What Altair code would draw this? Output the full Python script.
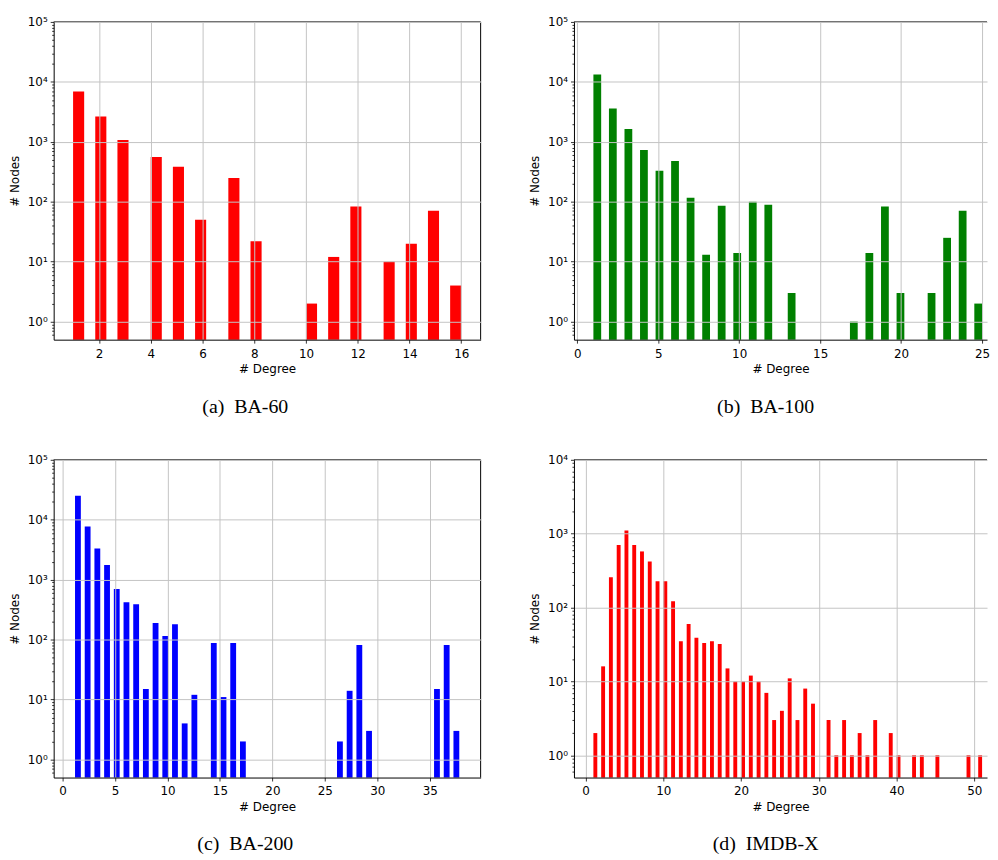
import altair as alt
import pandas as pd

# ---------------- data ----------------
# (a) BA-60
ba60_deg = [1, 2, 3, 4, 5, 6, 7, 8, 10, 11, 12, 13, 14, 15, 16]
ba60_cnt = [6900, 2650, 1070, 560, 385, 50, 250, 22, 2, 12, 83, 10, 20, 71, 4]

# (b) BA-100
ba100_deg = [1, 2, 3, 4, 5, 6, 7, 8, 9, 10, 11, 12, 13, 17, 18, 19, 20, 22, 23, 24, 25]
ba100_cnt = [13300, 3600, 1630, 730, 330, 480, 117, 13, 86, 14, 100, 89, 3, 1, 14, 83, 3, 3, 25, 71, 2]

# (c) BA-200
ba200_deg = [1, 2, 3, 4, 5, 6, 7, 8, 9, 10, 11, 12, 13, 14, 15, 16, 17, 26, 27, 28, 29, 36, 37, 38]
ba200_cnt = [25100, 7700, 3300, 1750, 700, 420, 390, 15, 190, 115, 180, 4, 12, 88, 11, 88, 2,
             2, 14, 81, 3, 15, 81, 3]

# (d) IMDB-X
imdb_deg = [1, 2, 3, 4, 5, 6, 7, 8, 9, 10, 11, 12, 13, 14, 15, 16, 17, 18, 19, 20, 21, 22, 23, 24,
            25, 26, 27, 28, 29, 31, 32, 33, 34, 35, 36, 37, 39, 40, 42, 43, 45, 49, 51]
imdb_cnt = [2, 16, 257, 700, 1100, 700, 575, 420, 227, 227, 122, 35, 60, 39, 33, 35, 32, 15, 10, 10,
            12, 10, 7, 3, 4, 11, 3, 8, 5, 3, 1, 3, 1, 2, 1, 3, 2, 1, 1, 1, 1, 1, 1]

captions = ["(a)\u00a0 BA-60", "(b)\u00a0 BA-100", "(c)\u00a0 BA-200", "(d)\u00a0 IMDB-X"]
x_ticks_a = [2, 4, 6, 8, 10, 12, 14, 16]
x_ticks_b = [0, 5, 10, 15, 20, 25]
x_ticks_c = [0, 5, 10, 15, 20, 25, 30, 35]
x_ticks_d = [0, 10, 20, 30, 40, 50]

FONT = "DejaVu Sans"
GRID = "#c4c4c4"


def hist_table(deg, cnt, lo, hi, nbins, rwidth):
    """Histogram bars as matplotlib's hist(weights=...) would place them."""
    w = (hi - lo) / nbins
    pad = (1 - rwidth) * w / 2
    rows = []
    for d, c in zip(deg, cnt):
        k = min(int((d - lo) / w + 1e-9), nbins - 1)
        left = lo + k * w
        rows.append({"x0": left + pad, "x1": left + w - pad, "n": c, "deg": d})
    return pd.DataFrame(rows)


def log_ticks(ymax):
    vals = [m / 10 for m in [6, 7, 8, 9]]
    e = 0
    while 10 ** e <= ymax:
        vals.append(10 ** e)
        if 10 ** (e + 1) <= ymax:
            for m in range(2, 10):
                vals.append(m * 10 ** e)
        e += 1
    return vals


IS_DEC = "abs(log(datum.value)/LN10 - round(log(datum.value)/LN10)) < 0.001"
SUP = "['\u2070','\u00b9','\u00b2','\u00b3','\u2074','\u2075']"


def panel(df, color, xdom, xticks, ymax, width, height, caption, cap_dx, cap_off, right_spine):
    y_axis = alt.Axis(
        values=log_ticks(ymax),
        labelExpr=f"{IS_DEC} ? '10' + {SUP}[round(log(datum.value)/LN10)] : ''",
        labelOverlap=False,
        labelFlush=False,
        labelFont=FONT,
        labelFontSize=12,
        labelColor="#000",
        labelPadding=3,
        tickSize={"condition": {"test": IS_DEC, "value": 3.5}, "value": 2},
        tickColor="#000",
        tickWidth=0.8,
        grid=True,
        gridOpacity={"condition": {"test": IS_DEC, "value": 1}, "value": 0},
        gridColor=GRID,
        gridWidth=1,
        domainColor="#000",
        domainWidth=1,
        title="# Nodes",
        titleFont=FONT,
        titleFontSize=12,
        titleFontWeight="normal",
        titleColor="#000",
        titlePadding=6,
        zindex=1,
    )
    x_axis = alt.Axis(
        values=xticks,
        labelFlush=False,
        labelOverlap=False,
        labelFont=FONT,
        labelFontSize=12,
        labelColor="#000",
        labelPadding=5,
        tickSize=3.5,
        tickColor="#000",
        tickWidth=0.8,
        grid=True,
        gridColor=GRID,
        gridWidth=1,
        domainColor="#000",
        domainWidth=1,
        title="# Degree",
        titleFont=FONT,
        titleFontSize=12,
        titleFontWeight="normal",
        titleColor="#000",
        titlePadding=5,
        zindex=1,
    )
    bars = alt.Chart(df).mark_rect(color=color).encode(
        x=alt.X("x0:Q", scale=alt.Scale(domain=xdom, nice=False, zero=False), axis=x_axis),
        x2="x1:Q",
        y=alt.Y("n:Q", scale=alt.Scale(type="log", domain=[0.5, ymax], nice=False), axis=y_axis),
        y2=alt.datum(0.5),
    )
    frame_src = pd.DataFrame({"k": [0]})
    top = alt.Chart(frame_src).mark_rule(color="#000", strokeWidth=1).encode(
        x=alt.value(0), x2=alt.value(width), y=alt.value(0)
    )
    layers = [bars, top]
    if right_spine:
        right = alt.Chart(frame_src).mark_rule(color="#000", strokeWidth=1).encode(
            x=alt.value(width), y=alt.value(0), y2=alt.value(height)
        )
        layers.append(right)
    return alt.layer(*layers).properties(
        width=width,
        height=height,
        title=alt.TitleParams(
            text=caption,
            orient="bottom",
            anchor="middle",
            font="Liberation Serif",
            fontSize=20,
            fontWeight="normal",
            color="#000",
            dx=cap_dx,
            offset=cap_off,
        ),
    )


W_L, H = 430, 320
W_R = 416

pa = panel(hist_table(ba60_deg, ba60_cnt, 1, 16, 35, 1.0), "#ff0000",
           [0.25, 16.75], x_ticks_a, 1e5, W_L, H, captions[0], -22, 22, True)
pb = panel(hist_table(ba100_deg, ba100_cnt, 1, 25, 50, 1.0), "#008000",
           [-0.2, -0.2 + W_R / 430.6 * 26.4], x_ticks_b, 1e5, W_R, H, captions[1], -15, 22, False)
pc = panel(hist_table(ba200_deg, ba200_cnt, 1, 38, 40, 0.6), "#0000ff",
           [-0.85, 39.85], x_ticks_c, 1e5, W_L, H, captions[2], -22, 21, True)
pd_ = panel(hist_table(imdb_deg, imdb_cnt, 1, 51, 100, 1.0), "#ff0000",
            [-1.5, -1.5 + W_R / 430.6 * 55], x_ticks_d, 1e4, W_R, H, captions[3], -15, 21, False)

chart = alt.ConcatChart(
    concat=[pa, pb, pc, pd_],
    columns=2,
    spacing=alt.RowColnumber(row=121, column=94),
    bounds="flush",
).properties(
    padding={"left": 0, "top": 5, "right": 0, "bottom": 0},
    background="white",
).configure_view(stroke=None)

chart.save("out.html", embed_options={"renderer": "svg", "actions": False})
